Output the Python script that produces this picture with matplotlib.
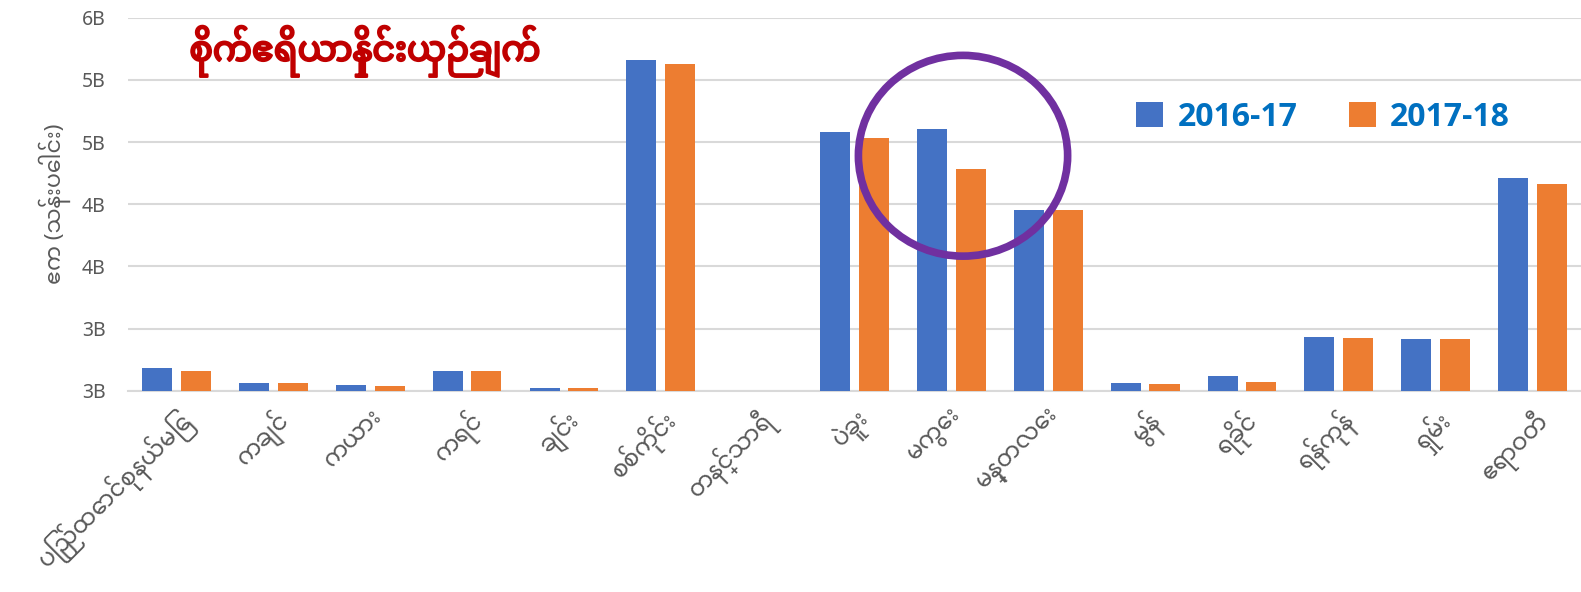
import matplotlib
matplotlib.use('Agg')
import matplotlib.pyplot as plt
import matplotlib.patheffects as pe
import numpy as np
from matplotlib.patches import Ellipse
from matplotlib import font_manager

# pick a font with Myanmar glyphs if one is installed
installed = {f.name for f in font_manager.fontManager.ttflist}
fams = [n for n in ['Noto Sans Myanmar', 'Padauk', 'Myanmar Text', 'Pyidaungsu'] if n in installed]
plt.rcParams['font.family'] = fams + ['Noto Sans', 'DejaVu Sans']

regions = ['ပြည်ထောင်စုနယ်မြေ', 'ကချင်', 'ကယား', 'ကရင်', 'ချင်း', 'စစ်ကိုင်း',
           'တနင်္သာရီ', 'ပဲခူး', 'မကွေး', 'မန္တလေး', 'မွန်', 'ရခိုင်',
           'ရန်ကုန်', 'ရှမ်း', 'ဧရာဝတီ']
y2016 = [0.37, 0.13, 0.10, 0.31, 0.05, 5.32, 0.0, 4.17, 4.21, 2.91, 0.13, 0.23, 0.87, 0.84, 3.43]
y2017 = [0.31, 0.13, 0.08, 0.31, 0.05, 5.26, 0.0, 4.07, 3.57, 2.91, 0.11, 0.14, 0.85, 0.84, 3.33]
yticks = [0, 1, 2, 3, 4, 5, 6]
ytick_labels = ['3B', '3B', '4B', '4B', '5B', '5B', '6B']
title = 'စိုက်ဧရိယာနှိုင်းယှဉ်ချက်'
ylabel = 'ဧက (သန်းပေါင်း)'

blue = '#4472C4'
orange = '#ED7D31'

fig = plt.figure(figsize=(15.81, 5.92), dpi=100)
ax = fig.add_axes([0.081, 0.34, 0.919, 0.63])

x = np.arange(len(regions))
ax.bar(x - 0.2, y2016, width=0.31, color=blue, label='2016-17', zorder=3)
ax.bar(x + 0.2, y2017, width=0.31, color=orange, label='2017-18', zorder=3)

ax.set_xlim(-0.5, len(regions) - 0.5)
ax.set_ylim(0, 6)
ax.set_yticks(yticks)
ax.set_yticklabels(ytick_labels, fontsize=14, color='#595959')
ax.set_xticks(x)
ax.set_xticklabels(regions, rotation=45, ha='right', rotation_mode='anchor',
                   fontsize=17, color='#595959')
ax.tick_params(axis='y', length=0, pad=16)
ax.tick_params(axis='x', length=0, pad=10)
ax.grid(axis='y', color='#D9D9D9', linewidth=1.5, zorder=0)
for s in ['top', 'right', 'left']:
    ax.spines[s].set_visible(False)
ax.spines['bottom'].set_color('#D9D9D9')
ax.spines['bottom'].set_linewidth(1.5)

ax.set_ylabel(ylabel, fontsize=16, color='#595959', labelpad=8)

ax.text(0.163, 0.91, title, transform=ax.transAxes, ha='center', va='center',
        fontsize=25, color='#C00000',
        path_effects=[pe.withStroke(linewidth=1.6, foreground='#C00000')])

leg = ax.legend(loc='upper right', bbox_to_anchor=(0.971, 0.855), ncol=2, frameon=False,
                prop={'family': 'Open Sans', 'weight': 'bold', 'size': 23},
                labelcolor='#0070C0',
                handlelength=0.85, handleheight=0.85, columnspacing=1.6, handletextpad=0.45)

# purple highlight ring around Magway
ring = Ellipse((8.12, 3.78), 2.16, 3.23, fill=False, edgecolor='#7030A0',
               linewidth=5.5, zorder=5, clip_on=False)
ax.add_patch(ring)

fig.savefig('out.png', dpi=100)
